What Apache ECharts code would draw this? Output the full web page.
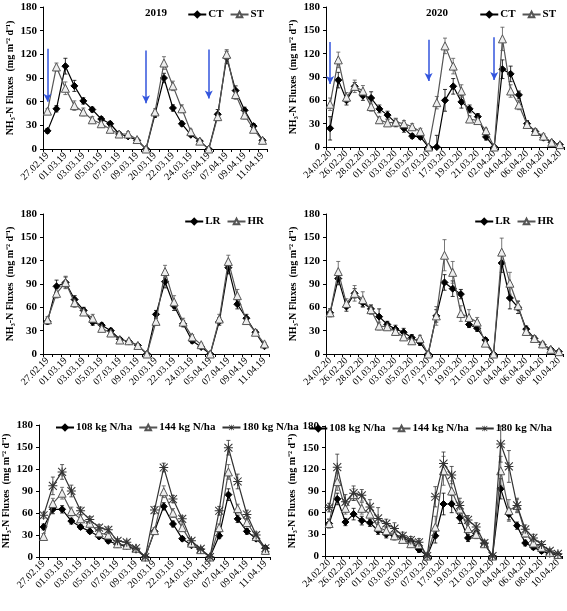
<!DOCTYPE html>
<html>
<head>
<meta charset="utf-8">
<script src="https://cdn.jsdelivr.net/npm/echarts@6/dist/echarts.min.js"></script>
<style>html,body{margin:0;padding:0;background:#fff}#c{width:567px;height:611px}</style>
</head>
<body>
<div id="c"></div>
<script>
// ---------- categories ----------
const cats2019 = ['27.02.19','28.02.19','01.03.19','02.03.19','03.03.19','04.03.19','05.03.19','06.03.19','07.03.19','08.03.19','09.03.19','19.03.19','20.03.19','21.03.19','22.03.19','23.03.19','24.03.19','25.03.19','05.04.19','06.04.19','07.04.19','08.04.19','09.04.19','10.04.19','11.04.19'];
const cats2020 = ['24.02.20','25.02.20','26.02.20','27.02.20','28.02.20','29.02.20','01.03.20','02.03.20','03.03.20','04.03.20','05.03.20','06.03.20','07.03.20','16.03.20','17.03.20','18.03.20','19.03.20','20.03.20','21.03.20','22.03.20','02.04.20','03.04.20','04.04.20','05.04.20','06.04.20','07.04.20','08.04.20','09.04.20','10.04.20'];
const yTicks = [0, 30, 60, 90, 120, 150, 180];

// ---------- 2019 tillage ----------
const ct2019 = [23,51,105,80,61,50,38,32,19,16,11,0,44,90,52,32,18,10,0,44,116,74,49,29,11];
const ctErr2019 = [3,4,10,7,4,3,3,3,2,2,2,0,4,6,4,3,2,1,0,6,8,6,4,3,2];
const st2019 = [48,104,77,55,47,37,32,25,19,19,12,0,47,109,80,51,22,10,0,41,120,69,43,25,11];
const stErr2019 = [3,5,8,6,5,4,3,3,3,3,2,0,4,8,6,5,3,2,0,5,6,6,5,3,2];
// ---------- 2020 tillage ----------
const ct2020 = [24,86,60,78,66,63,49,41,31,24,14,13,0,0,60,78,58,49,39,13,0,100,94,67,30,20,12,6,3];
const ctErr2020 = [15,10,6,5,6,8,5,5,5,5,3,3,0,15,14,10,8,5,4,4,0,12,10,5,4,3,3,2,1];
const st2020 = [55,112,64,78,72,52,35,31,32,30,26,20,0,57,130,104,72,36,34,21,0,139,72,54,29,20,14,6,3];
const stErr2020 = [8,10,6,8,7,6,4,4,5,4,4,4,0,8,10,10,8,4,4,3,0,15,8,6,4,3,3,2,1];
// ---------- 2019 residue ----------
const lr2019 = [42,87,92,70,56,41,37,30,19,16,11,0,51,93,62,39,17,9,0,42,111,64,46,28,10];
const lrErr2019 = [4,8,7,5,4,4,3,3,2,2,2,0,5,8,6,4,3,2,0,5,8,6,5,3,2];
const hr2019 = [44,78,92,66,54,46,33,27,18,17,11,0,42,106,67,41,22,12,0,45,119,75,43,28,13];
const hrErr2019 = [4,6,8,6,4,5,4,3,3,2,2,0,5,8,8,5,3,2,0,6,8,8,5,3,2];
// ---------- 2020 residue ----------
const lr2020 = [53,97,61,78,66,58,48,38,32,28,21,15,0,49,92,84,77,38,33,18,0,117,72,60,32,20,12,6,3];
const lrErr2020 = [5,8,6,6,5,5,10,4,5,5,4,4,0,8,10,10,6,4,4,3,0,12,14,8,4,3,3,2,1];
const hr2020 = [53,106,65,78,70,57,36,35,29,22,17,20,0,49,127,105,52,47,41,14,0,131,91,62,29,20,13,6,3];
const hrErr2020 = [5,13,6,10,10,6,5,4,5,4,4,4,0,12,20,14,10,10,6,3,0,18,14,6,5,3,3,2,1];
// ---------- 2019 N rate ----------
const n108_2019 = [41,65,65,49,41,35,28,22,17,15,10,0,35,69,45,25,16,10,0,29,85,52,35,25,12];
const n108Err2019 = [4,6,5,4,3,3,3,3,2,2,2,0,3,5,4,3,2,2,0,4,8,5,4,3,2];
const n144_2019 = [28,73,87,62,52,46,33,30,18,16,12,0,36,89,60,40,19,10,0,40,116,66,47,28,9];
const n144Err2019 = [4,7,8,6,5,5,4,4,3,3,2,0,4,8,6,5,3,2,0,5,10,6,5,3,2];
const n180_2019 = [57,97,116,90,63,51,40,37,22,20,12,0,64,122,79,52,22,11,0,63,149,103,58,30,12];
const n180Err2019 = [4,12,10,8,5,4,4,4,3,3,2,0,5,6,5,4,3,2,0,6,10,10,6,4,3];
// ---------- 2020 N rate ----------
const n108_2020 = [45,79,47,58,49,46,35,30,28,25,20,9,0,28,72,72,53,25,31,17,0,93,58,42,18,12,7,3,2];
const n108Err2020 = [6,8,5,8,6,5,5,5,4,4,3,4,0,10,15,12,8,5,4,3,0,14,8,5,4,3,3,2,1];
const n144_2020 = [45,103,66,85,66,58,40,35,28,23,17,16,0,40,118,90,65,38,30,17,0,118,63,70,32,18,12,5,2];
const n144Err2020 = [6,12,8,8,8,8,6,6,6,5,5,5,0,15,20,14,10,8,6,4,0,20,15,8,6,5,4,3,2];
const n180_2020 = [67,123,75,87,84,68,52,45,38,28,22,19,0,82,128,112,70,50,40,18,0,155,124,70,37,25,16,7,3];
const n180Err2020 = [6,18,10,10,8,10,15,6,8,5,5,5,0,14,16,12,10,6,6,4,0,25,22,10,6,5,4,3,2];
// ---------- fertilizer arrows: [category index, start value, end value] ----------
const arrows2019 = [[0,127,60],[11,125,58],[18,126,64]];
const arrows2020 = [[0,135,81],[12,138,85],[20,141,86]];

const FONT = "'Liberation Serif','Times New Roman',serif";
const ASTERISK = 'path://M4.45,0 L5.55,0 L5.55,10 L4.45,10 Z M0.2,1.0 L1.0,0.2 L9.8,9.0 L9.0,9.8 Z M9.0,0.2 L9.8,1.0 L1.0,9.8 L0.2,9.0 Z M0,4.45 L10,4.45 L10,5.55 L0,5.55 Z';

const styles = {
  diamond: {symbol:'diamond', symbolSize:7, line:'#000', fill:'#000', border:'#000', bw:1},
  triangle:{symbol:'triangle', symbolSize:8, line:'#555', fill:'#eeeeee', border:'#555', bw:1},
  aster:   {symbol:ASTERISK, symbolSize:9, line:'#333', fill:'#333', border:'#333', bw:0}
};

const panels = [
  {grid:{left:43,top:7,width:224,height:142}, cats:cats2019, title:{text:'2019',left:140,top:3},
   legend:{right:298,top:4}, arrows:arrows2019,
   series:[{name:'CT',d:ct2019,e:ctErr2019,s:'diamond'},{name:'ST',d:st2019,e:stErr2019,s:'triangle'}]},
  {grid:{left:326,top:7,width:238,height:140}, cats:cats2020, title:{text:'2020',left:421,top:3},
   legend:{right:6,top:4}, arrows:arrows2020,
   series:[{name:'CT',d:ct2020,e:ctErr2020,s:'diamond'},{name:'ST',d:st2020,e:stErr2020,s:'triangle'}]},
  {grid:{left:43,top:214,width:226,height:140}, cats:cats2019,
   legend:{right:298,top:211},
   series:[{name:'LR',d:lr2019,e:lrErr2019,s:'diamond'},{name:'HR',d:hr2019,e:hrErr2019,s:'triangle'}]},
  {grid:{left:326,top:214,width:237,height:140}, cats:cats2020,
   legend:{right:8,top:211},
   series:[{name:'LR',d:lr2020,e:lrErr2020,s:'diamond'},{name:'HR',d:hr2020,e:hrErr2020,s:'triangle'}]},
  {grid:{left:39,top:425,width:231,height:132}, cats:cats2019,
   legend:{left:50,top:417},
   series:[{name:'108 kg N/ha',d:n108_2019,e:n108Err2019,s:'diamond'},{name:'144 kg N/ha',d:n144_2019,e:n144Err2019,s:'triangle'},{name:'180 kg N/ha',d:n180_2019,e:n180Err2019,s:'aster'}]},
  {grid:{left:325,top:426,width:237,height:130}, cats:cats2020,
   legend:{right:10,top:418},
   series:[{name:'108 kg N/ha',d:n108_2020,e:n108Err2020,s:'diamond'},{name:'144 kg N/ha',d:n144_2020,e:n144Err2020,s:'triangle'},{name:'180 kg N/ha',d:n180_2020,e:n180Err2020,s:'aster'}]}
];

const option = {animation:false, backgroundColor:'#fff', grid:[], xAxis:[], yAxis:[], series:[], legend:[], title:[]};

panels.forEach((p, k) => {
  option.grid.push(Object.assign({containLabel:false}, p.grid));
  option.xAxis.push({
    type:'category', gridIndex:k, data:p.cats, boundaryGap:true,
    axisLine:{lineStyle:{color:'#000',width:1}},
    axisTick:{show:true, interval:0, length:3, lineStyle:{color:'#000'}},
    axisLabel:{interval:1, rotate:45, color:'#000', fontFamily:FONT, fontSize:10, margin:5}
  });
  option.yAxis.push({
    type:'value', gridIndex:k, min:yTicks[0], max:yTicks[yTicks.length-1], interval:yTicks[1]-yTicks[0],
    name:'NH\u2083-N Fluxes  (mg m\u207B\u00B2 d\u207B\u00B9)', nameLocation:'middle', nameGap:28,
    nameTextStyle:{color:'#000', fontFamily:FONT, fontSize:10, fontWeight:'bold'},
    axisLine:{show:true, lineStyle:{color:'#000',width:1}},
    axisTick:{show:true, length:3, lineStyle:{color:'#000'}},
    splitLine:{show:false},
    axisLabel:{color:'#000', fontFamily:FONT, fontSize:11, fontWeight:'bold', margin:6}
  });
  if (p.title) option.title.push({text:p.title.text, left:p.title.left, top:p.title.top,
    textStyle:{fontFamily:FONT, fontSize:11, fontWeight:'bold', color:'#000'}});
  const lg = {top:p.legend.top, data:p.series.map(s=>s.name), orient:'horizontal', width:400,
    itemWidth:18, itemHeight:7, itemGap:6, selectedMode:false,
    textStyle:{fontFamily:FONT, fontSize:11, fontWeight:'bold', color:'#000', padding:[0,0,0,-3]}};
  if (p.legend.left !== undefined) lg.left = p.legend.left; else lg.right = p.legend.right;
  option.legend.push(lg);

  p.series.forEach((s, j) => {
    const st = styles[s.s];
    // error bars
    option.series.push({
      type:'custom', name:'err'+k+'_'+j, xAxisIndex:k, yAxisIndex:k, z:1, silent:true,
      data:s.d.map((v,i)=>[i, Math.max(0, v - s.e[i]), v + s.e[i]]),
      encode:{x:0, y:[1,2]},
      renderItem:(params, api) => {
        const i = api.value(0);
        const lo = api.coord([i, api.value(1)]);
        const hi = api.coord([i, api.value(2)]);
        const w = 2;
        const style = {stroke:st.line, lineWidth:0.8, fill:null};
        return {type:'group', children:[
          {type:'line', shape:{x1:lo[0],y1:lo[1],x2:hi[0],y2:hi[1]}, style:style},
          {type:'line', shape:{x1:hi[0]-w,y1:hi[1],x2:hi[0]+w,y2:hi[1]}, style:style},
          {type:'line', shape:{x1:lo[0]-w,y1:lo[1],x2:lo[0]+w,y2:lo[1]}, style:style}
        ]};
      }
    });
    const ser = {
      type:'line', name:s.name, xAxisIndex:k, yAxisIndex:k, data:s.d, z:3+j,
      symbol:st.symbol, symbolSize:st.symbolSize, showAllSymbol:true,
      lineStyle:{color:st.line, width:1.2},
      itemStyle:{color:st.fill, borderColor:st.border, borderWidth:st.bw}
    };
    if (j === 0 && p.arrows) {
      ser.markLine = {
        silent:true, symbol:['none','arrow'], symbolSize:[6,8], label:{show:false},
        lineStyle:{color:'#3355dd', width:1.5, type:'solid'},
        data:p.arrows.map(a=>[{coord:[a[0],a[1]]},{coord:[a[0],a[2]]}])
      };
    }
    option.series.push(ser);
  });
});

const chart = echarts.init(document.getElementById('c'), null, {renderer:'canvas'});
chart.setOption(option);
</script>
</body>
</html>
